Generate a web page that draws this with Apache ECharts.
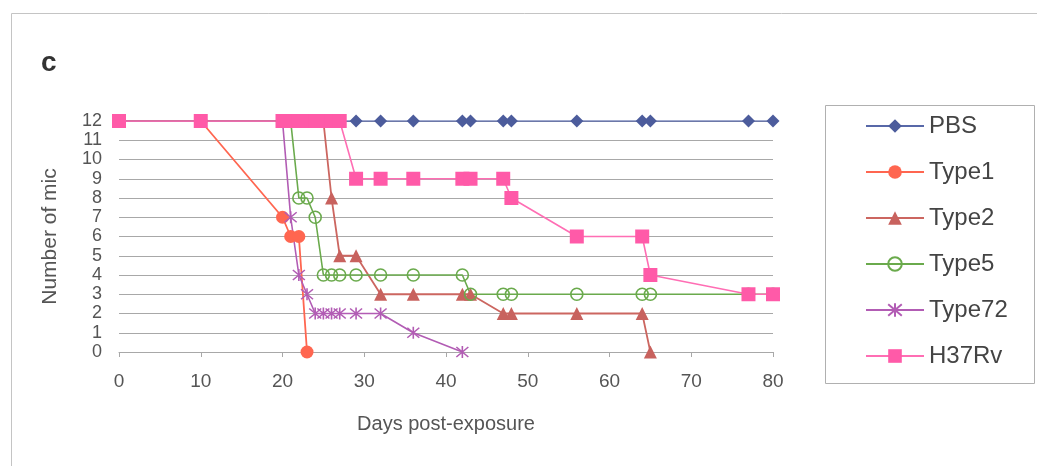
<!DOCTYPE html>
<html>
<head>
<meta charset="utf-8">
<script src="https://cdn.jsdelivr.net/npm/echarts@6/dist/echarts.min.js"></script>
<style>
html,body{margin:0;padding:0;background:#fff;}
#c{width:1037px;height:466px;}
</style>
</head>
<body>
<div id="c"></div>
<script>
// ---- data (days, number of mice alive) ----
const pbsDays   = [0, 10, 20, 21, 22, 23, 24, 25, 26, 27, 29, 32, 36, 42, 43, 47, 48, 56, 64, 65, 77, 80];
const pbsVals   = [12, 12, 12, 12, 12, 12, 12, 12, 12, 12, 12, 12, 12, 12, 12, 12, 12, 12, 12, 12, 12, 12];
const type1Days = [0, 10, 20, 21, 22, 23];
const type1Vals = [12, 12, 7, 6, 6, 0];
const type2Days = [0, 10, 20, 21, 22, 23, 24, 25, 26, 27, 29, 32, 36, 42, 43, 47, 48, 56, 64, 65];
const type2Vals = [12, 12, 12, 12, 12, 12, 12, 12, 8, 5, 5, 3, 3, 3, 3, 2, 2, 2, 2, 0];
const type5Days = [0, 10, 20, 21, 22, 23, 24, 25, 26, 27, 29, 32, 36, 42, 43, 47, 48, 56, 64, 65, 77, 80];
const type5Vals = [12, 12, 12, 12, 8, 8, 7, 4, 4, 4, 4, 4, 4, 4, 3, 3, 3, 3, 3, 3, 3, 3];
const type72Days = [0, 10, 20, 21, 22, 23, 24, 25, 26, 27, 29, 32, 36, 42];
const type72Vals = [12, 12, 12, 7, 4, 3, 2, 2, 2, 2, 2, 2, 1, 0];
const h37Days   = [0, 10, 20, 21, 22, 23, 24, 25, 26, 27, 29, 32, 36, 42, 43, 47, 48, 56, 64, 65, 77, 80];
const h37Vals   = [12, 12, 12, 12, 12, 12, 12, 12, 12, 12, 9, 9, 9, 9, 9, 9, 8, 6, 6, 4, 3, 3];
const seriesNames = ['PBS', 'Type1', 'Type2', 'Type5', 'Type72', 'H37Rv'];
const yTicks = [0, 1, 2, 3, 4, 5, 6, 7, 8, 9, 10, 11, 12];
const xTicks = [0, 10, 20, 30, 40, 50, 60, 70, 80];

const zip = (d, v) => d.map((x, i) => [x, v[i]]);
const FONT = 'Liberation Sans, Arial, sans-serif';
const asterisk = 'path://M0,0 L10,10 M10,0 L0,10 M5,-1 L5,11';

const chart = echarts.init(document.getElementById('c'), null, {renderer: 'canvas'});
chart.setOption({
  animation: false,
  backgroundColor: '#ffffff',
  textStyle: {fontFamily: FONT},
  graphic: [
    {type: 'rect', shape: {x: 11.5, y: 13.5, width: 1040, height: 470},
     style: {fill: 'none', stroke: '#c4c4c4', lineWidth: 1}, silent: true, z: -10},
    {type: 'rect', shape: {x: 825.5, y: 105.5, width: 209, height: 278},
     style: {fill: 'none', stroke: '#b0b0b0', lineWidth: 1}, silent: true, z: -10},
    {type: 'text', left: 41, top: 49,
     style: {text: 'c', font: 'bold 28px ' + FONT, fill: '#333'}}
  ],
  grid: {left: 119, right: 264, top: 121, bottom: 114},
  legend: {
    orient: 'vertical', left: 860, top: 109,
    itemWidth: 58, itemHeight: 17, itemGap: 22,
    textStyle: {fontSize: 24, color: '#444', fontFamily: FONT},
    data: seriesNames
  },
  xAxis: {
    type: 'value', min: xTicks[0], max: xTicks[xTicks.length - 1], interval: 10,
    name: 'Days post-exposure', nameLocation: 'middle', nameGap: 62,
    nameTextStyle: {fontSize: 20, color: '#555'},
    axisLine: {show: true, lineStyle: {color: '#a8a8a8', width: 1}},
    axisTick: {show: true, length: 5, lineStyle: {color: '#a8a8a8'}},
    axisLabel: {fontSize: 19, color: '#555', margin: 20},
    splitLine: {show: false}
  },
  yAxis: {
    type: 'value', min: yTicks[0], max: yTicks[yTicks.length - 1], interval: 1,
    name: 'Number of mice', nameLocation: 'middle', nameGap: 58,
    nameTextStyle: {fontSize: 21, color: '#555'},
    nameTruncate: {maxWidth: 142, ellipsis: ''},
    axisLine: {show: false},
    axisTick: {show: false},
    axisLabel: {fontSize: 18, color: '#555', margin: 17},
    splitLine: {show: true, lineStyle: {color: '#a8a8a8', width: 1}}
  },
  series: [
    {name: seriesNames[0], type: 'line', data: zip(pbsDays, pbsVals),
     symbol: 'diamond', symbolSize: 13, color: '#4c5c9c',
     lineStyle: {width: 1.5, color: '#5868a8'}},
    {name: seriesNames[1], type: 'line', data: zip(type1Days, type1Vals),
     symbol: 'circle', symbolSize: 13, color: '#ff6650',
     lineStyle: {width: 1.8, color: '#ff6650'}},
    {name: seriesNames[2], type: 'line', data: zip(type2Days, type2Vals),
     symbol: 'triangle', symbolSize: 13, color: '#c8625e',
     lineStyle: {width: 1.8, color: '#cc6660'}},
    {name: seriesNames[3], type: 'line', data: zip(type5Days, type5Vals),
     symbol: 'circle', symbolSize: 12, color: '#6aaa4c',
     itemStyle: {color: 'rgba(255,255,255,0)', borderColor: '#6aaa4c', borderWidth: 1.6},
     lineStyle: {width: 1.6, color: '#6aaa4c'}},
    {name: seriesNames[4], type: 'line', data: zip(type72Days, type72Vals),
     symbol: asterisk, symbolSize: 12, color: '#b25cb4',
     itemStyle: {color: 'rgba(255,255,255,0)', borderColor: '#b25cb4', borderWidth: 1.6},
     lineStyle: {width: 1.6, color: '#b25cb4'}},
    {name: seriesNames[5], type: 'line', data: zip(h37Days, h37Vals),
     symbol: 'rect', symbolSize: 14, color: '#ff5aa8',
     lineStyle: {width: 1.6, color: '#ff6eb4'}}
  ]
});
</script>
</body>
</html>
